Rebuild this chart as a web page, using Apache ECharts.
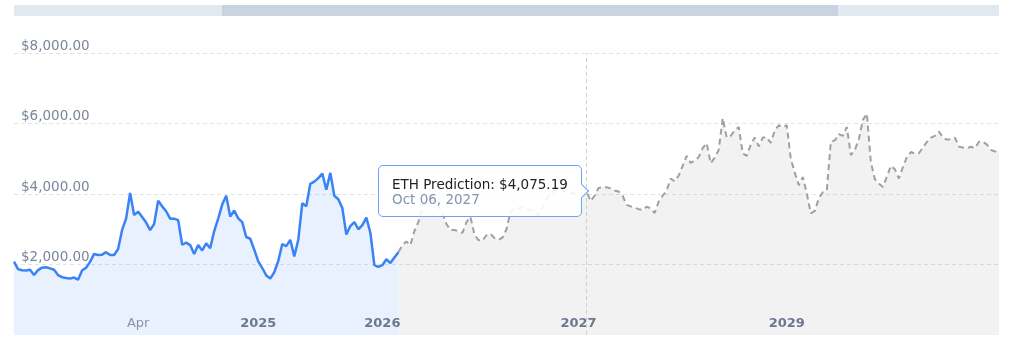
<!DOCTYPE html>
<html>
<head>
<meta charset="utf-8">
<script src="https://cdn.jsdelivr.net/npm/echarts@6/dist/echarts.min.js"></script>
<style>
html,body{margin:0;padding:0;background:#fff;}
#chart{width:1024px;height:344px;}
</style>
</head>
<body>
<div id="chart"></div>
<script>
// ---- data ----
const predStart = '2025-12-17';   // first forecast date (also last historical date)
const histStepDays = 10;
const predStepDays = 14;

const histValues = [
  2080,1870,1835,1830,1850,1700,1840,1910,1920,1890,
  1850,1700,1640,1615,1600,1630,1570,1830,1910,2075,
  2300,2270,2280,2350,2270,2270,2440,2980,3300,4030,
  3400,3500,3350,3190,2975,3150,3810,3650,3510,3300,
  3300,3260,2560,2620,2550,2300,2550,2400,2600,2460,
  2950,3300,3700,3950,3360,3530,3310,3200,2780,2730,
  2420,2090,1900,1690,1600,1780,2100,2580,2520,2700,
  2230,2700,3740,3650,4290,4350,4450,4580,4120,4600,
  3950,3850,3600,2850,3090,3200,3000,3115,3330,2900,
  1980,1930,1980,2150,2040,2200,2350
];

const predValues = [
  2350,2550,2650,2550,2950,3210,3600,3800,3880,3800,
  3650,3450,3150,2975,2980,2940,2900,3200,3350,2850,
  2690,2680,2830,2870,2750,2700,2760,3000,3500,3600,
  3590,3640,3580,3545,3480,3400,3600,3870,4000,4100,
  4150,4100,4070,4050,4000,3980,4000,4075.19,3800,3950,
  4170,4200,4190,4160,4100,4070,3950,3690,3650,3610,
  3570,3545,3640,3590,3460,3780,3950,4100,4440,4360,
  4520,4800,5080,4880,4950,5050,5300,5440,4870,5030,
  5250,6150,5600,5650,5800,5900,5150,5080,5400,5600,
  5350,5600,5600,5450,5800,5950,5900,5950,5000,4600,
  4250,4480,4015,3450,3520,3875,4050,4110,5480,5520,
  5700,5650,5900,5100,5250,5550,6100,6280,4900,4420,
  4300,4200,4490,4800,4700,4440,4760,5050,5190,5150,
  5155,5320,5480,5600,5650,5770,5600,5540,5560,5600,
  5340,5320,5300,5340,5300,5480,5480,5400,5250,5200,5260
];

const xTickTexts = ['Apr', '2025', '2026', '2027', '2029'];
const xTickDates = ['2024-03-07', '2025-01-01', '2025-11-07', '2027-09-08', '2029-09-05'];
const yTicks = [2000, 4000, 6000, 8000];
const tipDate = '2027-10-06';

// ---- build categories ----
const DAY = 864e5;
const p0 = Date.parse(predStart + 'T00:00:00Z');
const categories = [];
for (let k = histValues.length - 1; k >= 1; k--) {
  categories.push(new Date(p0 - k * histStepDays * DAY).toISOString().slice(0, 10));
}
for (let k = 0; k < predValues.length; k++) {
  categories.push(new Date(p0 + k * predStepDays * DAY).toISOString().slice(0, 10));
}
const histData = histValues.concat(new Array(predValues.length - 1).fill(null));
const predData = new Array(histValues.length - 1).fill(null).concat(predValues);

// tick label lookup: nearest category to each tick date
const tickMap = {};
xTickDates.forEach((d, i) => {
  const t = Date.parse(d + 'T00:00:00Z');
  let best = 0, bd = Infinity;
  categories.forEach((c, j) => {
    const dd = Math.abs(Date.parse(c + 'T00:00:00Z') - t);
    if (dd < bd) { bd = dd; best = j; }
  });
  tickMap[categories[best]] = xTickTexts[i];
});

const MONTHS = ['Jan','Feb','Mar','Apr','May','Jun','Jul','Aug','Sep','Oct','Nov','Dec'];
function fmtDate(s) {
  const [y, m, d] = s.split('-');
  return MONTHS[+m - 1] + ' ' + d + ', ' + y;
}
function fmtMoney(v) {
  return '$' + Number(v).toLocaleString('en-US', {minimumFractionDigits: 2, maximumFractionDigits: 2});
}

const FONT = 'DejaVu Sans';
const chart = echarts.init(document.getElementById('chart'), null, {renderer: 'canvas'});
chart.setOption({
  animation: false,
  textStyle: {fontFamily: FONT},
  grid: {left: 14, right: 25, top: 53, bottom: 9, containLabel: false},
  graphic: [
    {type: 'rect', shape: {x: 14, y: 5, width: 985, height: 11}, style: {fill: '#e2e8f0'}, silent: true},
    {type: 'rect', shape: {x: 222, y: 5, width: 616, height: 11}, style: {fill: '#cad3e0'}, silent: true}
  ],
  tooltip: {
    trigger: 'axis',
    triggerOn: 'none',
    alwaysShowContent: true,
    transitionDuration: 0,
    backgroundColor: 'rgba(255,255,255,0.88)',
    borderColor: '#6aa3f8',
    borderWidth: 1.5,
    padding: [11, 13, 10, 13],
    extraCssText: 'box-shadow:none;border-radius:5px;line-height:14.5px;',
    textStyle: {fontFamily: FONT, fontSize: 13.5, color: '#222'},
    axisPointer: {
      type: 'line',
      lineStyle: {color: '#cfcfcf', type: [4, 3], width: 1}
    },
    position: function (point, params, dom, rect, size) {
      return [point[0] - size.contentSize[0] - 5, point[1] - size.contentSize[1] / 2];
    },
    formatter: function (params) {
      let p = params.find(q => q.seriesName === 'ETH Prediction' && q.value != null) ||
              params.find(q => q.value != null);
      if (!p) return '';
      return '<div style="position:absolute;right:-6px;top:50%;margin-top:-5px;width:10px;height:10px;background:#fff;' +
             'border-top:1.5px solid #6aa3f8;border-right:1.5px solid #6aa3f8;transform:rotate(45deg);box-sizing:border-box;"></div>' +
             '<div>' + p.seriesName + ': ' + fmtMoney(p.value) + '</div>' +
             '<div style="color:#8493aa;">' + fmtDate(p.name) + '</div>';
    }
  },
  xAxis: {
    type: 'category',
    data: categories,
    boundaryGap: false,
    z: 5,
    axisLine: {show: false},
    axisTick: {show: false},
    splitLine: {show: false},
    axisLabel: {
      inside: true,
      margin: 5,
      interval: function (idx, val) { return tickMap[val] !== undefined; },
      formatter: function (val) {
        const t = tickMap[val];
        if (t === undefined) return '';
        return /^\d+$/.test(t) ? '{y|' + t + '}' : '{m|' + t + '}';
      },
      rich: {
        y: {fontFamily: FONT, fontSize: 13, fontWeight: 'bold', color: '#6b7890'},
        m: {fontFamily: FONT, fontSize: 13, color: '#8a94a5'}
      }
    }
  },
  yAxis: {
    type: 'value',
    min: 0,
    max: 8000,
    interval: 2000,
    axisLine: {show: false},
    axisTick: {show: false},
    splitLine: {showMinLine: false, lineStyle: {color: '#e3e3e3', type: [4, 3], width: 1}},
    axisLabel: {
      inside: true,
      margin: 7,
      verticalAlign: 'bottom',
      padding: [0, 0, 0, 0],
      fontFamily: FONT,
      fontSize: 13.5,
      color: '#7a869a',
      formatter: function (v) { return yTicks.indexOf(v) >= 0 ? fmtMoney(v) : ''; }
    }
  },
  series: [
    {
      name: 'ETH Price',
      type: 'line',
      data: histData,
      symbol: 'none',
      connectNulls: false,
      lineStyle: {color: '#3b82f6', width: 2.5},
      itemStyle: {color: '#3b82f6'},
      areaStyle: {color: 'rgba(59,130,246,0.11)', opacity: 1},
      emphasis: {disabled: true},
      z: 3
    },
    {
      name: 'ETH Prediction',
      type: 'line',
      data: predData,
      symbol: 'none',
      connectNulls: false,
      lineStyle: {color: '#a0a0a0', width: 2, type: [6, 4]},
      itemStyle: {color: '#a0a0a0'},
      areaStyle: {color: 'rgba(0,0,0,0.05)', opacity: 1},
      emphasis: {disabled: true},
      z: 2
    }
  ]
});

const tipIndex = categories.indexOf(tipDate);
chart.dispatchAction({type: 'showTip', seriesIndex: 1, dataIndex: tipIndex});
</script>
</body>
</html>
